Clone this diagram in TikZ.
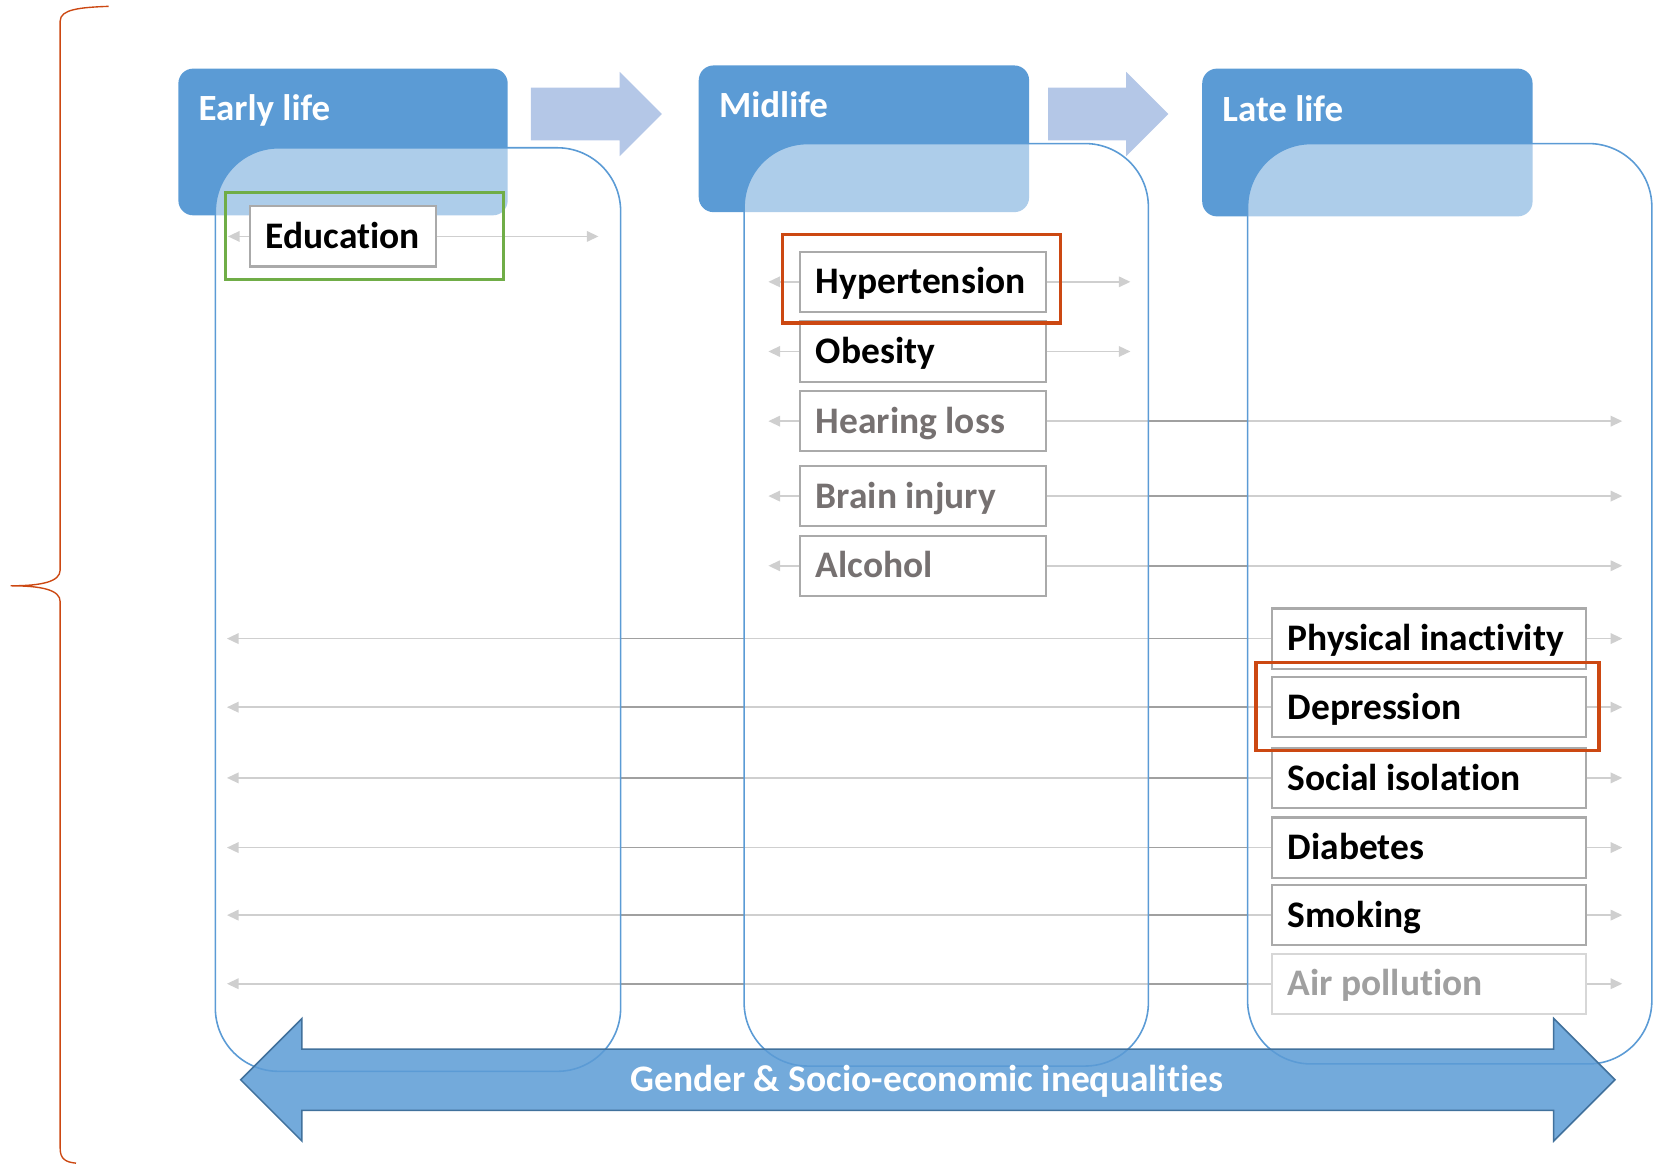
\documentclass[tikz,border=0pt]{standalone}
\usepackage{fontspec}
\setmainfont{Carlito}[Ligatures=NoCommon]
\usetikzlibrary{arrows.meta}
\pgfdeclarelayer{bg}
\pgfdeclarelayer{lines}
\pgfdeclarelayer{cont}
\pgfsetlayers{bg,lines,cont,main}
\definecolor{hdrblue}{RGB}{91,155,213}
\definecolor{lightarrow}{RGB}{180,199,231}
\definecolor{arrowedge}{RGB}{65,113,156}
\definecolor{boxgray}{RGB}{170,170,170}
\definecolor{fadegray}{RGB}{118,113,113}
\definecolor{airgray}{RGB}{160,160,160}
\definecolor{airedge}{RGB}{215,215,215}
\definecolor{linegray}{RGB}{160,160,160}
\definecolor{hlred}{RGB}{204,72,18}
\definecolor{hlgreen}{RGB}{112,173,71}
\newcommand{\mtxt}[1]{\makebox[203pt][l]{#1}}
\newcommand{\ltxt}[1]{\makebox[268pt][l]{#1}}
\newcommand{\etxt}[1]{\makebox[146pt][l]{#1}}
\begin{document}
\begin{tikzpicture}[x=1pt,y=-1pt,
  hdr/.style={fill=hdrblue, rounded corners=14pt},
  hdrtext/.style={anchor=west, text=white, inner sep=0pt, text height=27pt, text depth=5pt,
    font=\fontsize{35}{42}\selectfont\bfseries},
  contbox/.style={draw=hdrblue, line width=1.5pt, fill=white, fill opacity=0.5, rounded corners=60pt},
  rbox/.style={draw=boxgray, line width=2pt, fill=white, minimum height=57pt, inner xsep=15pt,
    inner ysep=0pt, text height=28pt, text depth=5pt, font=\fontsize{35.5}{42}\selectfont\bfseries},
  faded/.style={text=fadegray},
  airbox/.style={draw=airedge, text=airgray},
  conn/.style={draw=linegray, line width=1.5pt, -{Triangle[length=11pt,width=10pt]}},
  hilite/.style={line width=3pt}
]
\useasboundingbox (0,0) rectangle (1568,1104);

% ---------- risk factor boxes ----------
\node[rbox] (edu) at (325,224) {\etxt{Education}};
\node[rbox] (hyp)   at (874.5,267) {\mtxt{Hypertension}};
\node[rbox] (obe)   at (874.5,333) {\mtxt{Obesity}};
\node[rbox,faded] (hear)  at (874.5,399) {\mtxt{Hearing loss}};
\node[rbox,faded] (brain) at (874.5,470) {\mtxt{Brain injury}};
\node[rbox,faded] (alc)   at (874.5,536) {\mtxt{Alcohol}};
\node[rbox] (phys) at (1354,605) {\ltxt{Physical inactivity}};
\node[rbox] (dep)  at (1354,670) {\ltxt{Depression}};
\node[rbox] (soc)  at (1354,737) {\ltxt{Social isolation}};
\node[rbox] (diab) at (1354,803) {\ltxt{Diabetes}};
\node[rbox] (smok) at (1354,867) {\ltxt{Smoking}};
\node[rbox,airbox] (air) at (1354,932) {\ltxt{Air pollution}};

% end-point references
\coordinate (lE) at (216,0);
\coordinate (rE) at (567,0);
\coordinate (lM) at (728,0);
\coordinate (rM) at (1071,0);
\coordinate (lL) at (215,0);
\coordinate (rL) at (1537,0);

% ---------- headers ----------
\begin{pgfonlayer}{bg}
  \fill[hdr] (169,65) rectangle (481,204);
  \fill[hdr] (662,62) rectangle (975,201);
  \fill[hdr] (1139,65) rectangle (1452,205);
  \fill[lightarrow] (503,83) -- (587,83) -- (587,68) -- (627,108) -- (587,148) -- (587,133) -- (503,133) -- cycle;
  \fill[lightarrow] (993,83) -- (1067,83) -- (1067,68) -- (1107,108) -- (1067,148) -- (1067,133) -- (993,133) -- cycle;
\end{pgfonlayer}
\node[hdrtext] (early) at (188,103) {Early life};
\node[hdrtext] (mid)   at (681,100) {Midlife};
\node[hdrtext] (late)  at (1158,104) {Late life};

% ---------- connectors ----------
\begin{pgfonlayer}{lines}
  \draw[conn] (edu.west) -- (edu.west -| lE);
  \draw[conn] (edu.east) -- (edu.east -| rE);
  \foreach \n in {hyp,obe} {
    \draw[conn] (\n.west) -- (\n.west -| lM);
    \draw[conn] (\n.east) -- (\n.east -| rM);
  }
  \foreach \n in {hear,brain,alc} {
    \draw[conn] (\n.west) -- (\n.west -| lM);
    \draw[conn] (\n.east) -- (\n.east -| rL);
  }
  \foreach \n in {phys,dep,soc,diab,smok,air} {
    \draw[conn] (\n.west) -- (\n.west -| lL);
    \draw[conn] (\n.east) -- (\n.east -| rL);
  }
\end{pgfonlayer}

% ---------- stage containers ----------
\begin{pgfonlayer}{cont}
  \draw[contbox] (204,140) rectangle (588,1015);
  \draw[contbox] (705,136) rectangle (1088,1010);
  \draw[contbox] (1182,136) rectangle (1565,1008);
\end{pgfonlayer}

% ---------- highlights ----------
\draw[hilite, hlgreen] (214,182) rectangle (477,265);
\draw[hilite, hlred] (741,222) rectangle (1005,306);
\draw[hilite, hlred] (1190,628) rectangle (1515,711);

% ---------- inequalities arrow ----------
\draw[fill=hdrblue, fill opacity=0.85, draw=arrowedge, line width=1.5pt, line join=miter]
  (228,1023) -- (286,965) -- (286,994) -- (1472,994) -- (1472,965) -- (1530,1023)
  -- (1472,1081) -- (1472,1052) -- (286,1052) -- (286,1081) -- cycle;
\node[text=white, inner sep=0pt, text height=28pt, text depth=5pt,
  font=\fontsize{35.5}{42}\selectfont\bfseries] (ineq) at (878,1023) {Gender \& Socio-economic inequalities};

% ---------- brace ----------
\draw[hlred, line width=1.3pt]
  (103,6) .. controls (75,7) and (57,9) .. (57,20) -- (57,540)
  .. controls (57,551) and (40,555) .. (10,555)
  .. controls (40,555) and (57,559) .. (57,570) -- (57,1088)
  .. controls (57,1098) and (62,1101) .. (72,1102);
\end{tikzpicture}
\end{document}
